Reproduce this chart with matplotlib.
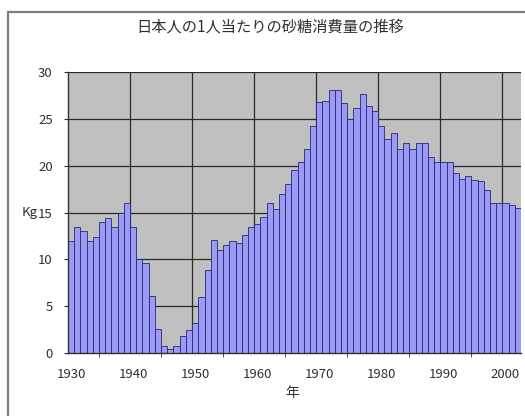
import matplotlib
matplotlib.use("Agg")

import matplotlib.pyplot as plt
from matplotlib.patches import Rectangle

plt.rcParams["font.family"] = ["Noto Sans CJK JP", "DejaVu Sans"]

# --- データ (1930-2002, kg/人) ---
years = list(range(1930, 2003))
sugar_kg = [
    12.0, 13.5, 13.0, 12.0, 12.4, 14.0, 14.4, 13.5, 15.0, 16.0,   # 1930-39
    13.5, 10.0, 9.6, 6.1, 2.6, 0.7, 0.4, 0.8, 1.8, 2.5,           # 1940-49
    3.2, 6.0, 8.9, 12.1, 11.0, 11.5, 12.0, 11.7, 12.6, 13.4,      # 1950-59
    13.8, 14.5, 16.0, 15.4, 17.0, 18.0, 19.5, 20.4, 21.8, 24.2,   # 1960-69
    26.8, 26.9, 28.1, 28.1, 26.7, 25.0, 26.2, 27.6, 26.4, 25.8,   # 1970-79
    24.2, 22.9, 23.5, 21.8, 22.4, 21.8, 22.4, 22.4, 20.9, 20.4,   # 1980-89
    20.4, 20.4, 19.2, 18.6, 18.9, 18.5, 18.4, 17.4, 16.0, 16.0,   # 1990-99
    16.0, 15.8, 15.5,                                             # 2000-02
]
label_years = [1930, 1940, 1950, 1960, 1970, 1980, 1990, 2000]
y_ticks = [0, 5, 10, 15, 20, 25, 30]

title = "日本人の1人当たりの砂糖消費量の推移"
text_color = "#303030"

fig = plt.figure(figsize=(5.25, 4.16), dpi=100)
fig.patch.set_facecolor("white")

# グラフ全体の枠
fig.add_artist(Rectangle((8 / 525, -0.05), 1.0, 1 - 12 / 416 + 0.05,
                         transform=fig.transFigure, fill=False,
                         edgecolor="#808080", linewidth=1.6))

ax = fig.add_axes([68 / 525, 1 - 353 / 416, 453 / 525, 281 / 416])
ax.set_facecolor("#c0c0c0")

ax.bar(years, sugar_kg, width=1.0, color="#9b9bf5",
       edgecolor="#26267a", linewidth=0.6, zorder=3)

ax.set_xlim(1929.5, 2002.5)
ax.set_ylim(0, 30)

# 目盛りとグリッド
ax.set_yticks(y_ticks)
ax.set_xticks(label_years)
ax.set_xticks([y - 5.5 for y in label_years[1:]], minor=True)
ax.tick_params(axis="x", which="major", length=0, pad=11, labelsize=9.5)
ax.tick_params(axis="x", which="minor", length=3, color="#303030")
ax.tick_params(axis="y", length=3, pad=8, labelsize=9.5, color="#303030")
for lbl in ax.get_xticklabels() + ax.get_yticklabels():
    lbl.set_color(text_color)

for v in y_ticks[1:]:
    ax.axhline(v, color="#2a2a2a", linewidth=0.9, zorder=1)
for y in label_years[1:]:
    ax.axvline(y - 0.5, color="#2a2a2a", linewidth=0.9, zorder=1)

for side in ["top", "right"]:
    ax.spines[side].set_visible(False)
for side in ["left", "bottom"]:
    ax.spines[side].set_color("#303030")
    ax.spines[side].set_linewidth(1.0)
    ax.spines[side].set_zorder(4)

fig.text(270 / 525, 1 - 27 / 416, title, ha="center", va="center",
         fontsize=11, color=text_color)
fig.text(30 / 525, 1 - 213 / 416, "Kg", ha="center", va="center",
         fontsize=9.5, color=text_color)
fig.text(292 / 525, 1 - 393 / 416, "年", ha="center", va="center",
         fontsize=10, color=text_color)

plt.savefig("out.png", dpi=100, facecolor="white")
plt.close()
